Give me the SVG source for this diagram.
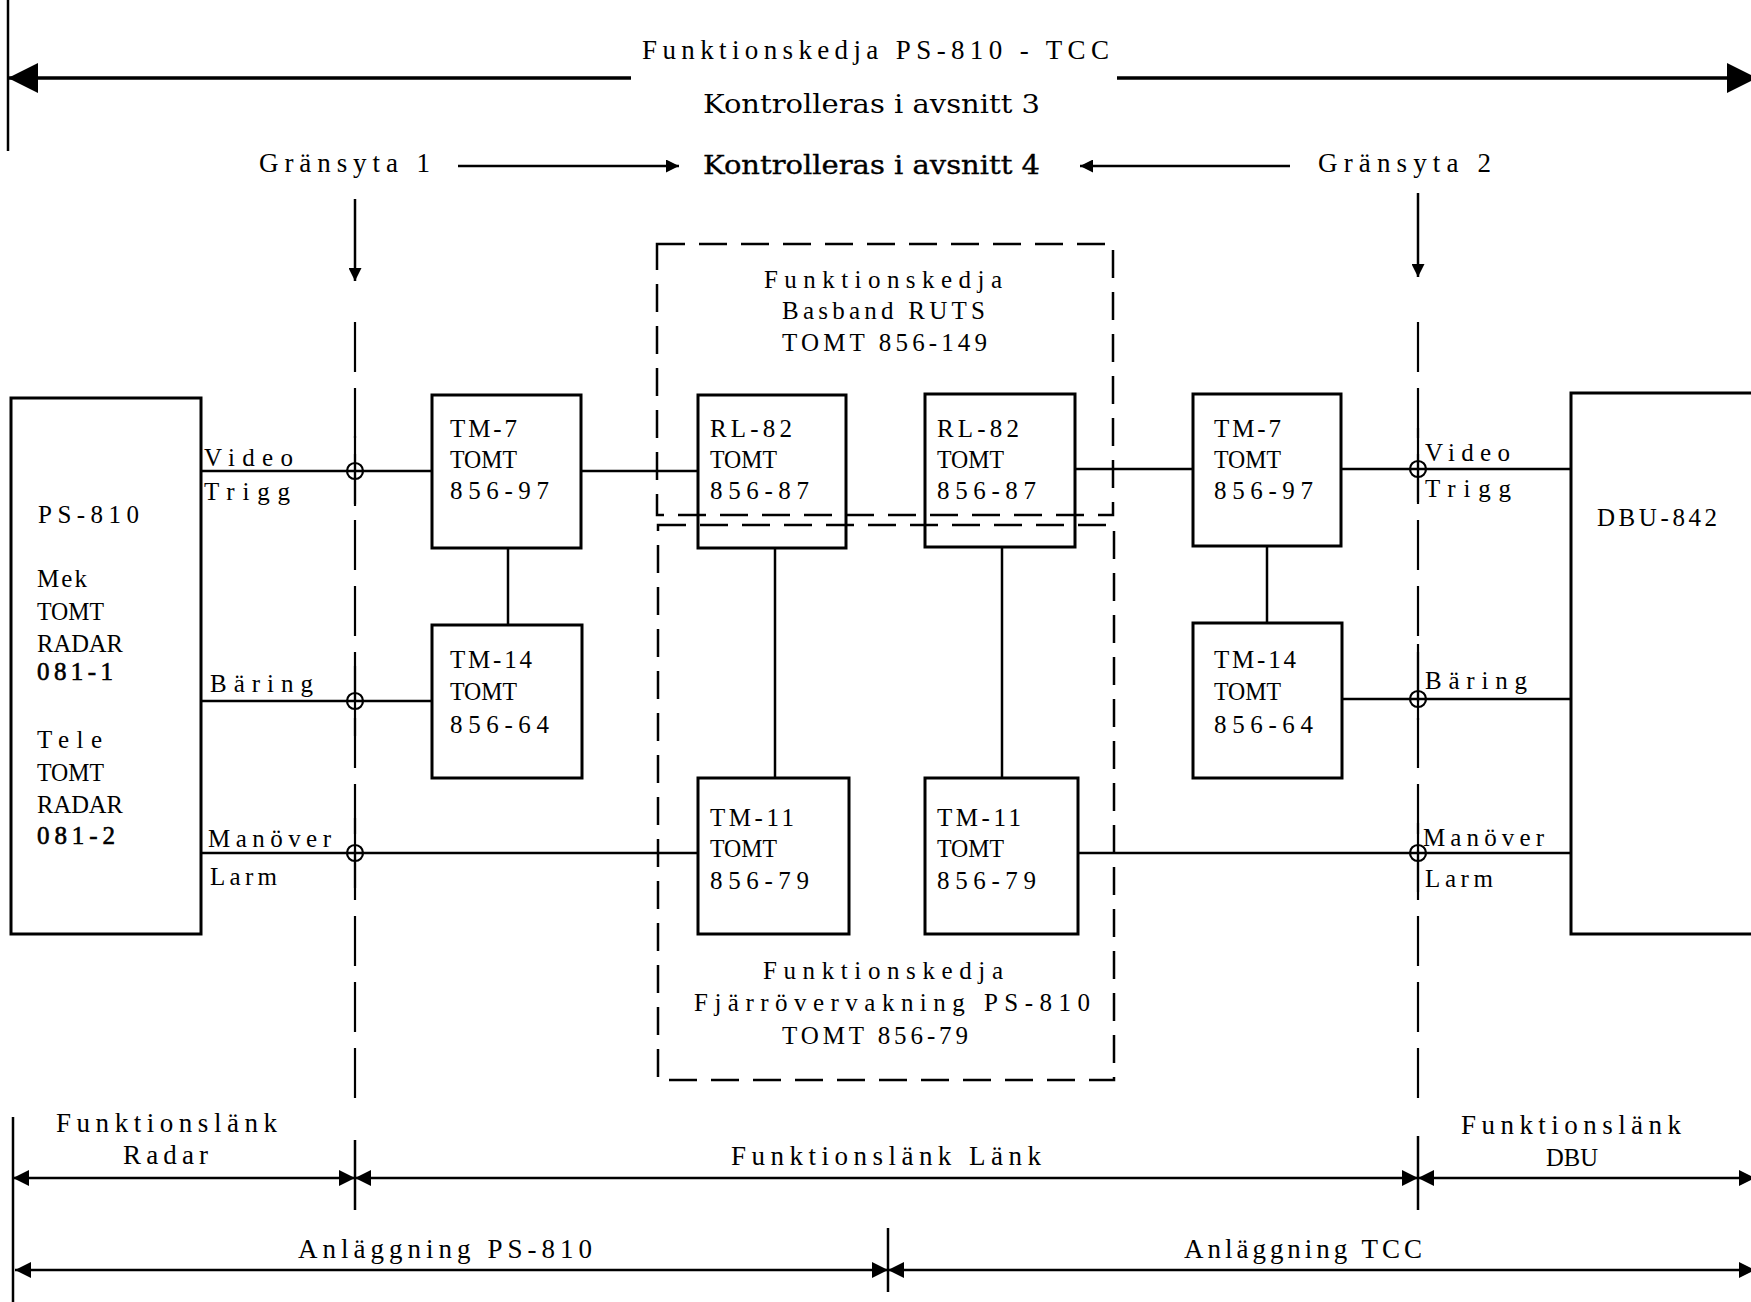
<svg xmlns="http://www.w3.org/2000/svg" width="1751" height="1302" viewBox="0 0 1751 1302">
  <style>
    .box { fill: none; stroke: #000; stroke-width: 3; }
    .ln { fill: none; stroke: #000; stroke-width: 2.5; }
    .thick { fill: none; stroke: #000; stroke-width: 3.5; }
    .frame { fill: none; stroke: #000; stroke-width: 2.5; stroke-dasharray: 28 14; }
    .iface { fill: none; stroke: #000; stroke-width: 2.2; stroke-dasharray: 50 16; }
    .jn { fill: none; stroke: #000; stroke-width: 2.2; }
    .t { font-family: "Liberation Serif", "Times New Roman", serif; font-size: 25px; fill: #000; }
    .tw { font-family: "Liberation Serif", "Times New Roman", serif; font-size: 27px; fill: #000; }
    .k { font-family: "DejaVu Serif", "Liberation Serif", serif; font-size: 26px; fill: #000; }
    .bold { stroke: #000; stroke-width: 0.6; }
    .semi { stroke: #000; stroke-width: 0.35; }
  </style>
  <defs>
    <marker id="bigArrow" viewBox="0 0 10 10" refX="10" refY="5" markerUnits="userSpaceOnUse" markerWidth="30" markerHeight="34" orient="auto-start-reverse">
      <path d="M0,0 L10,5 L0,10 z" fill="#000"/>
    </marker>
    <marker id="arrow" viewBox="0 0 10 10" refX="10" refY="5" markerUnits="userSpaceOnUse" markerWidth="17" markerHeight="16" orient="auto-start-reverse">
      <path d="M0,0 L10,5 L0,10 z" fill="#000"/>
    </marker>
    <marker id="smallArrow" viewBox="0 0 10 10" refX="10" refY="5" markerUnits="userSpaceOnUse" markerWidth="15" markerHeight="13" orient="auto-start-reverse">
      <path d="M0,0 L10,5 L0,10 z" fill="#000"/>
    </marker>
  </defs>
  <rect width="1751" height="1302" fill="#fff"/>

  <!-- Top span: whole function chain -->
  <g id="chain-span">
    <line class="ln" x1="8" y1="0" x2="8" y2="151"/>
    <line class="thick" x1="8" y1="78" x2="631" y2="78" marker-start="url(#bigArrow)"/>
    <line class="thick" x1="1117" y1="78" x2="1757" y2="78" marker-end="url(#bigArrow)"/>
    <text class="tw" x="642" y="59" textLength="467" lengthAdjust="spacing">Funktionskedja PS-810 - TCC</text>
    <text class="k" x="703" y="113" textLength="337" lengthAdjust="spacingAndGlyphs">Kontrolleras i avsnitt 3</text>
  </g>

  <!-- Interface markers -->
  <g id="interface-labels">
    <text class="tw" x="259" y="172" textLength="171" lengthAdjust="spacing">Gränsyta 1</text>
    <text class="k semi" x="703" y="174" textLength="337" lengthAdjust="spacingAndGlyphs">Kontrolleras i avsnitt 4</text>
    <text class="tw" x="1318" y="172" textLength="173" lengthAdjust="spacing">Gränsyta 2</text>
  </g>

  <!-- Dashed frames for the two sub-chains -->
  <g id="frame-basband">
    <rect class="frame" x="657" y="244" width="456" height="271"/>
    <text class="t" x="764" y="288" textLength="238" lengthAdjust="spacing">Funktionskedja</text>
    <text class="t" x="782" y="319" textLength="203" lengthAdjust="spacing">Basband RUTS</text>
    <text class="t" x="782" y="351" textLength="205" lengthAdjust="spacing">TOMT 856-149</text>
  </g>
  <g id="frame-fjarr">
    <rect class="frame" x="658" y="525" width="456" height="555"/>
    <text class="t" x="763" y="979" textLength="240" lengthAdjust="spacing">Funktionskedja</text>
    <text class="t" x="694" y="1011" textLength="396" lengthAdjust="spacing">Fjärrövervakning PS-810</text>
    <text class="t" x="782" y="1044" textLength="186" lengthAdjust="spacing">TOMT 856-79</text>
  </g>

  <!-- Connectors -->
  <g id="connectors">
    <!-- interface arrows -->
    <line class="ln" x1="458" y1="166" x2="679" y2="166" marker-end="url(#smallArrow)"/>
    <line class="ln" x1="1290" y1="166" x2="1080" y2="166" marker-end="url(#smallArrow)"/>
    <line class="ln" x1="355" y1="199" x2="355" y2="281" marker-end="url(#smallArrow)"/>
    <line class="ln" x1="1418" y1="193" x2="1418" y2="277" marker-end="url(#smallArrow)"/>

    <!-- interface boundaries -->
    <line class="iface" x1="355" y1="322" x2="355" y2="1112"/>
    <line class="iface" x1="1418" y1="322" x2="1418" y2="1112"/>
    <line class="jn" x1="355" y1="436" x2="355" y2="506"/>
    <line class="jn" x1="355" y1="666" x2="355" y2="736"/>
    <line class="jn" x1="355" y1="818" x2="355" y2="888"/>
    <line class="jn" x1="1418" y1="428" x2="1418" y2="502"/>
    <line class="jn" x1="1418" y1="644" x2="1418" y2="720"/>
    <line class="jn" x1="1418" y1="823" x2="1418" y2="892"/>

    <!-- signal lines, PS-810 side -->
    <line class="ln" x1="201" y1="471" x2="432" y2="471"/>
    <line class="ln" x1="581" y1="471" x2="698" y2="471"/>
    <line class="ln" x1="201" y1="701" x2="432" y2="701"/>
    <line class="ln" x1="201" y1="853" x2="698" y2="853"/>
    <line class="ln" x1="508" y1="548" x2="508" y2="625"/>

    <!-- internal link -->
    <line class="ln" x1="775" y1="548" x2="775" y2="778"/>
    <line class="ln" x1="1002" y1="548" x2="1002" y2="778"/>

    <!-- signal lines, DBU side -->
    <line class="ln" x1="1075" y1="469" x2="1193" y2="469"/>
    <line class="ln" x1="1341" y1="469" x2="1571" y2="469"/>
    <line class="ln" x1="1342" y1="699" x2="1571" y2="699"/>
    <line class="ln" x1="1078" y1="853" x2="1571" y2="853"/>
    <line class="ln" x1="1267" y1="546" x2="1267" y2="623"/>

    <!-- junction points -->
    <circle class="jn" cx="355" cy="471" r="8"/>
    <circle class="jn" cx="355" cy="701" r="8"/>
    <circle class="jn" cx="355" cy="853" r="8"/>
    <circle class="jn" cx="1418" cy="469" r="8"/>
    <circle class="jn" cx="1418" cy="699" r="8"/>
    <circle class="jn" cx="1418" cy="853" r="8"/>

    <!-- signal names -->
    <text class="t" x="204" y="466" textLength="89" lengthAdjust="spacing">Video</text>
    <text class="t" x="204" y="500" textLength="86" lengthAdjust="spacing">Trigg</text>
    <text class="t" x="210" y="692" textLength="103" lengthAdjust="spacing">Bäring</text>
    <text class="t" x="208" y="847" textLength="123" lengthAdjust="spacing">Manöver</text>
    <text class="t" x="210" y="885" textLength="67" lengthAdjust="spacing">Larm</text>
    <text class="t" x="1425" y="461" textLength="85" lengthAdjust="spacing">Video</text>
    <text class="t" x="1425" y="497" textLength="86" lengthAdjust="spacing">Trigg</text>
    <text class="t" x="1425" y="689" textLength="102" lengthAdjust="spacing">Bäring</text>
    <text class="t" x="1423" y="846" textLength="121" lengthAdjust="spacing">Manöver</text>
    <text class="t" x="1425" y="887" textLength="68" lengthAdjust="spacing">Larm</text>
  </g>

  <!-- Units -->
  <g id="ps810">
    <rect class="box" x="11" y="398" width="190" height="536"/>
    <text class="t" x="38" y="523" textLength="101" lengthAdjust="spacing">PS-810</text>
    <text class="t" x="37" y="587" textLength="50" lengthAdjust="spacing">Mek</text>
    <text class="t" x="37" y="620" textLength="67" lengthAdjust="spacingAndGlyphs">TOMT</text>
    <text class="t" x="37" y="652" textLength="86" lengthAdjust="spacingAndGlyphs">RADAR</text>
    <text class="t bold" x="37" y="680" textLength="76" lengthAdjust="spacing">081-1</text>
    <text class="t" x="37" y="748" textLength="65" lengthAdjust="spacing">Tele</text>
    <text class="t" x="37" y="781" textLength="67" lengthAdjust="spacingAndGlyphs">TOMT</text>
    <text class="t" x="37" y="813" textLength="86" lengthAdjust="spacingAndGlyphs">RADAR</text>
    <text class="t bold" x="37" y="844" textLength="78" lengthAdjust="spacing">081-2</text>
  </g>

  <g id="tm7-left">
    <rect class="box" x="432" y="395" width="149" height="153"/>
    <text class="t" x="450" y="437" textLength="67" lengthAdjust="spacing">TM-7</text>
    <text class="t" x="450" y="468" textLength="67" lengthAdjust="spacingAndGlyphs">TOMT</text>
    <text class="t" x="450" y="499" textLength="99" lengthAdjust="spacing">856-97</text>
  </g>
  <g id="tm14-left">
    <rect class="box" x="432" y="625" width="150" height="153"/>
    <text class="t" x="450" y="668" textLength="82" lengthAdjust="spacing">TM-14</text>
    <text class="t" x="450" y="700" textLength="67" lengthAdjust="spacingAndGlyphs">TOMT</text>
    <text class="t" x="450" y="733" textLength="99" lengthAdjust="spacing">856-64</text>
  </g>
  <g id="rl82-left">
    <rect class="box" x="698" y="395" width="148" height="153"/>
    <text class="t" x="710" y="437" textLength="82" lengthAdjust="spacing">RL-82</text>
    <text class="t" x="710" y="468" textLength="67" lengthAdjust="spacingAndGlyphs">TOMT</text>
    <text class="t" x="710" y="499" textLength="99" lengthAdjust="spacing">856-87</text>
  </g>
  <g id="rl82-right">
    <rect class="box" x="925" y="394" width="150" height="153"/>
    <text class="t" x="937" y="437" textLength="82" lengthAdjust="spacing">RL-82</text>
    <text class="t" x="937" y="468" textLength="67" lengthAdjust="spacingAndGlyphs">TOMT</text>
    <text class="t" x="937" y="499" textLength="99" lengthAdjust="spacing">856-87</text>
  </g>
  <g id="tm11-left">
    <rect class="box" x="698" y="778" width="151" height="156"/>
    <text class="t" x="710" y="826" textLength="84" lengthAdjust="spacing">TM-11</text>
    <text class="t" x="710" y="857" textLength="67" lengthAdjust="spacingAndGlyphs">TOMT</text>
    <text class="t" x="710" y="889" textLength="99" lengthAdjust="spacing">856-79</text>
  </g>
  <g id="tm11-right">
    <rect class="box" x="925" y="778" width="153" height="156"/>
    <text class="t" x="937" y="826" textLength="84" lengthAdjust="spacing">TM-11</text>
    <text class="t" x="937" y="857" textLength="67" lengthAdjust="spacingAndGlyphs">TOMT</text>
    <text class="t" x="937" y="889" textLength="99" lengthAdjust="spacing">856-79</text>
  </g>
  <g id="tm7-right">
    <rect class="box" x="1193" y="394" width="148" height="152"/>
    <text class="t" x="1214" y="437" textLength="67" lengthAdjust="spacing">TM-7</text>
    <text class="t" x="1214" y="468" textLength="67" lengthAdjust="spacingAndGlyphs">TOMT</text>
    <text class="t" x="1214" y="499" textLength="99" lengthAdjust="spacing">856-97</text>
  </g>
  <g id="tm14-right">
    <rect class="box" x="1193" y="623" width="149" height="155"/>
    <text class="t" x="1214" y="668" textLength="82" lengthAdjust="spacing">TM-14</text>
    <text class="t" x="1214" y="700" textLength="67" lengthAdjust="spacingAndGlyphs">TOMT</text>
    <text class="t" x="1214" y="733" textLength="99" lengthAdjust="spacing">856-64</text>
  </g>
  <g id="dbu842">
    <rect class="box" x="1571" y="393" width="220" height="541"/>
    <text class="t" x="1597" y="526" textLength="120" lengthAdjust="spacing">DBU-842</text>
  </g>

  <!-- Bottom spans: function links and installations -->
  <g id="link-spans">
    <line class="ln" x1="13" y1="1117" x2="13" y2="1302"/>
    <line class="ln" x1="355" y1="1140" x2="355" y2="1210"/>
    <line class="ln" x1="1418" y1="1136" x2="1418" y2="1210"/>
    <line class="ln" x1="13" y1="1178" x2="355" y2="1178" marker-start="url(#arrow)" marker-end="url(#arrow)"/>
    <line class="ln" x1="355" y1="1178" x2="1418" y2="1178" marker-start="url(#arrow)" marker-end="url(#arrow)"/>
    <line class="ln" x1="1418" y1="1178" x2="1755" y2="1178" marker-start="url(#arrow)" marker-end="url(#arrow)"/>
    <text class="tw" x="56" y="1132" textLength="221" lengthAdjust="spacing">Funktionslänk</text>
    <text class="tw" x="123" y="1164" textLength="85" lengthAdjust="spacing">Radar</text>
    <text class="tw" x="731" y="1165" textLength="310" lengthAdjust="spacing">Funktionslänk Länk</text>
    <text class="tw" x="1461" y="1134" textLength="220" lengthAdjust="spacing">Funktionslänk</text>
    <text class="t" x="1546" y="1166" textLength="52" lengthAdjust="spacingAndGlyphs">DBU</text>
  </g>
  <g id="installation-spans">
    <line class="ln" x1="888" y1="1228" x2="888" y2="1292"/>
    <line class="ln" x1="15" y1="1270" x2="888" y2="1270" marker-start="url(#arrow)" marker-end="url(#arrow)"/>
    <line class="ln" x1="888" y1="1270" x2="1755" y2="1270" marker-start="url(#arrow)" marker-end="url(#arrow)"/>
    <text class="tw" x="298" y="1258" textLength="294" lengthAdjust="spacing">Anläggning PS-810</text>
    <text class="tw" x="1184" y="1258" textLength="238" lengthAdjust="spacing">Anläggning TCC</text>
  </g>
</svg>
